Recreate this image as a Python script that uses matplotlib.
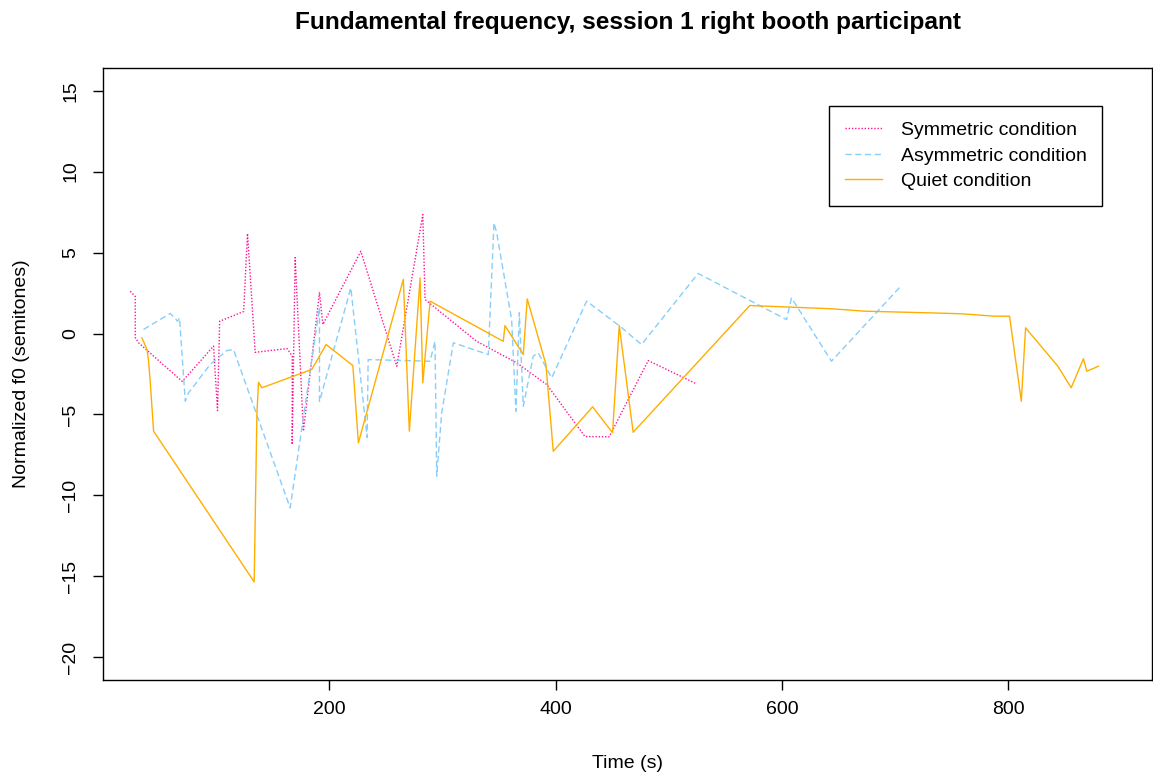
import matplotlib
matplotlib.use("Agg")
import matplotlib.pyplot as plt

plt.rcParams['font.family'] = ['Liberation Sans', 'DejaVu Sans']

# f0 tracks (time in s, normalized f0 in semitones)
sym_time = [24.1, 28.5, 28.5, 31.4, 70.0, 97.7, 101.2, 103.1, 124.3, 127.7,
            134.5, 162.7, 167.2, 167.2, 169.8, 177.1, 191.3, 194.3, 227.8, 259.6,
            282.6, 284.6, 330.2, 365.6, 392.1, 425.9, 447.3, 481.8, 524.5]
sym_f0 = [2.61, 2.29, -0.25, -0.57, -2.96, -0.78, -4.76, 0.76, 1.36, 6.18,
          -1.16, -0.93, -1.39, -6.86, 4.69, -6.03, 2.55, 0.56, 5.08, -2.02,
          7.35, 2.10, -0.48, -1.81, -3.15, -6.36, -6.38, -1.67, -3.11]

asym_time = [35.8, 59.4, 65.9, 67.6, 72.7, 75.6, 94.7, 109.5, 115.3, 165.4,
             191.3, 191.3, 219.0, 233.4, 234.3, 289.0, 293.4, 294.9, 299.3, 309.6,
             340.5, 345.5, 347.9, 361.1, 364.9, 367.9, 371.4, 380.2, 384.6, 396.5,
             427.4, 456.8, 475.9, 525.9, 604.0, 608.4, 643.7, 705.5]
asym_f0 = [0.25, 1.24, 0.76, 0.97, -4.18, -3.66, -1.91, -1.05, -0.99, -10.77,
           1.61, -4.20, 2.82, -6.42, -1.61, -1.71, -0.49, -8.81, -4.90, -0.57,
           -1.30, 6.84, 6.22, 0.86, -4.80, 1.28, -4.49, -1.40, -1.19, -2.74,
           2.00, 0.45, -0.68, 3.71, 0.86, 2.20, -1.71, 2.96]

quiet_time = [34.4, 38.9, 40.3, 41.8, 44.7, 133.6, 136.0, 137.4, 140.4, 184.5,
              197.2, 220.8, 225.7, 265.4, 270.7, 280.2, 282.6, 289.0, 353.7, 355.2,
              371.4, 374.9, 391.4, 397.9, 432.7, 450.3, 456.2, 468.5, 571.6, 643.7,
              673.1, 729.0, 758.5, 787.9, 801.1, 811.5, 815.3, 843.8, 855.6, 866.4,
              869.4, 879.6]
quiet_f0 = [-0.27, -0.99, -1.71, -3.05, -6.03, -15.34, -5.00, -3.01, -3.35, -2.22,
            -0.68, -1.98, -6.75, 3.34, -6.03, 3.44, -3.05, 2.00, -0.48, 0.49,
            -1.30, 2.14, -1.91, -7.27, -4.53, -6.13, 0.49, -6.10, 1.73, 1.53,
            1.38, 1.28, 1.22, 1.07, 1.07, -4.18, 0.35, -2.02, -3.35, -1.56,
            -2.33, -2.02]

fig = plt.figure(figsize=(11.53, 7.75), dpi=100)
ax = fig.add_axes([103 / 1153, 95 / 775, 1049 / 1153, 612 / 775])

ax.plot(sym_time, sym_f0, color='#FF1493', lw=1.0, dashes=(1, 1.3),
        label='Symmetric condition')
ax.plot(asym_time, asym_f0, color='#87CEFA', lw=1.0, dashes=(4.5, 2.5),
        label='Asymmetric condition')
ax.plot(quiet_time, quiet_f0, color='#FFAE00', lw=1.0,
        label='Quiet condition')

ax.set_xlim(0, 927)
ax.set_ylim(-21.4, 16.4)
ax.set_xticks([200, 400, 600, 800])
ax.set_yticks([-20, -15, -10, -5, 0, 5, 10, 15])
ax.tick_params(axis='both', labelsize=14, length=7, width=1, direction='out')
ax.tick_params(axis='x', pad=8)
ax.tick_params(axis='y', pad=10)
for lab in ax.get_yticklabels():
    lab.set_rotation(90)
    lab.set_va('center')
for s in ax.spines.values():
    s.set_linewidth(1)

fig.text(628 / 1153, 1 - 764 / 775, 'Time (s)', ha='center', va='center', fontsize=14)
fig.text(22 / 1153, 1 - 374 / 775, 'Normalized f0 (semitones)', ha='center',
         va='center', rotation=90, fontsize=14)
fig.text(628 / 1153, 1 - 22 / 775, 'Fundamental frequency, session 1 right booth participant',
         ha='center', va='center', fontsize=17.6, fontweight='bold')

leg = ax.legend(loc='upper left', bbox_to_anchor=(829 / 1153, 1 - 106 / 775),
                bbox_transform=fig.transFigure, borderaxespad=0, fontsize=14,
                fancybox=False, edgecolor='black', framealpha=1,
                handlelength=1.9, handletextpad=1.0, labelspacing=0.4,
                borderpad=0.8)
leg.get_frame().set_linewidth(1)

fig.savefig('out.png', dpi=100)
